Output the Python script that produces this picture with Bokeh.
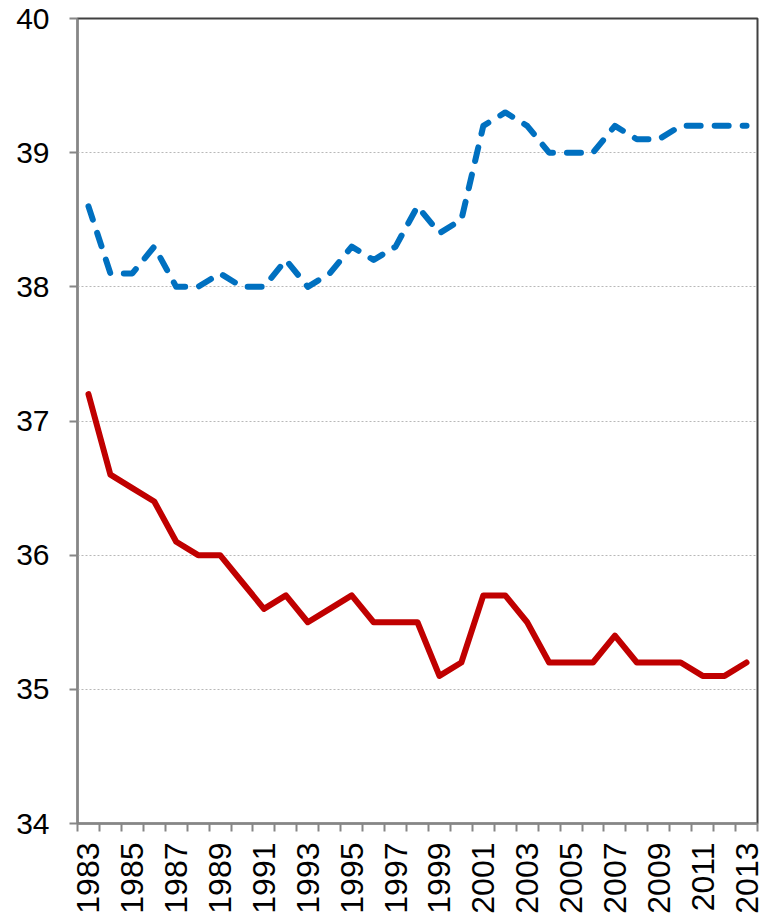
import math
from bokeh.plotting import figure
from bokeh.models import FixedTicker, Range1d
from bokeh.embed import file_html
from bokeh.resources import INLINE

# ---- data ----
years = list(range(1983, 2014))
blue_series = [38.6, 38.1, 38.1, 38.3, 38.0, 38.0, 38.1, 38.0, 38.0, 38.2,
               38.0, 38.1, 38.3, 38.2, 38.3, 38.6, 38.4, 38.5, 39.2, 39.3,
               39.2, 39.0, 39.0, 39.0, 39.2, 39.1, 39.1, 39.2, 39.2, 39.2, 39.2]
red_series = [37.2, 36.6, 36.5, 36.4, 36.1, 36.0, 36.0, 35.8, 35.6, 35.7,
              35.5, 35.6, 35.7, 35.5, 35.5, 35.5, 35.1, 35.2, 35.7, 35.7,
              35.5, 35.2, 35.2, 35.2, 35.4, 35.2, 35.2, 35.2, 35.1, 35.1, 35.2]
y_ticks = [34, 35, 36, 37, 38, 39, 40]
label_years = years[::2]
x_tick_labels = [str(y) for y in label_years]

FONT = "Liberation Sans"

p = figure(width=761, height=916, output_backend="svg", toolbar_location=None,
           x_range=Range1d(years[0] - 0.5, years[-1] + 0.5),
           y_range=Range1d(y_ticks[0], y_ticks[-1]),
           min_border_left=77, min_border_top=18, min_border_right=4,
           min_border_bottom=90)

p.background_fill_color = "white"
p.border_fill_color = "white"
p.outline_line_color = "#404040"
p.outline_line_width = 2

# lines
p.line(years, red_series, line_color="#C00000", line_width=6,
       line_join="round", line_cap="round")
p.line(years, blue_series, line_color="#0070C0", line_width=6,
       line_dash="14 14", line_join="round", line_cap="round")

# y axis
yax = p.yaxis[0]
yax.ticker = FixedTicker(ticks=y_ticks)
yax.axis_line_color = "#868686"
yax.axis_line_width = 2
yax.major_tick_line_color = "#868686"
yax.major_tick_line_width = 2
yax.major_tick_out = 8
yax.major_tick_in = 0
yax.minor_tick_line_color = None
yax.major_label_text_font = FONT
yax.major_label_text_font_size = "30px"
yax.major_label_text_color = "black"
yax.major_label_standoff = 20

# x axis: labels at every other year, ticks at category boundaries
xax = p.xaxis[0]
boundaries = [y - 0.5 for y in years] + [years[-1] + 0.5]
xax.ticker = FixedTicker(ticks=label_years, minor_ticks=boundaries)
xax.major_label_overrides = {y: s for y, s in zip(label_years, x_tick_labels)}
xax.major_label_orientation = math.pi / 2
xax.axis_line_color = "#868686"
xax.axis_line_width = 2
xax.major_tick_line_color = None
xax.major_tick_out = 8
xax.major_tick_in = 0
xax.minor_tick_line_color = "#868686"
xax.minor_tick_line_width = 2
xax.minor_tick_out = 8
xax.minor_tick_in = 0
xax.major_label_text_font = FONT
xax.major_label_text_font_size = "32px"
xax.major_label_text_color = "black"
xax.major_label_standoff = 11

# grid
p.xgrid.grid_line_color = None
p.ygrid.grid_line_color = "#b8b8b8"
p.ygrid.grid_line_width = 1
p.ygrid.grid_line_dash = "2 2"

open("out.html", "w").write(file_html(p, INLINE))
